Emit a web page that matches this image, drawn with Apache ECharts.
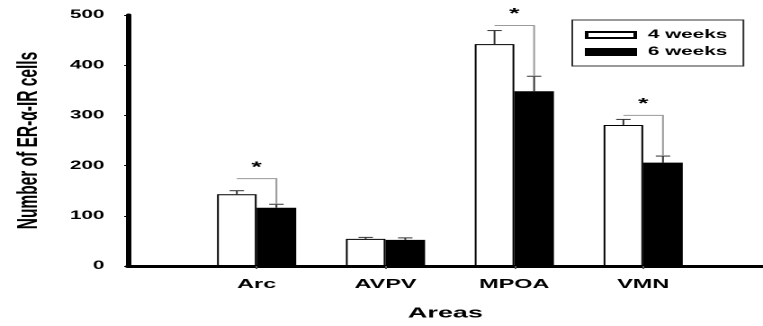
<!DOCTYPE html>
<html>
<head>
<meta charset="utf-8">
<script src="https://cdn.jsdelivr.net/npm/echarts@6/dist/echarts.min.js"></script>
<style>
html,body{margin:0;padding:0;background:#fff;}
#wrap{width:763px;height:326px;overflow:hidden;position:relative;}
#chart{width:424px;height:326px;transform:scaleX(1.79953);transform-origin:0 0;}
</style>
</head>
<body>
<div id="wrap"><div id="chart"></div></div>
<script>
// ---- data ----
const categories = ['Arc', 'AVPV', 'MPOA', 'VMN'];
const seriesNames = ['4 weeks', '6 weeks'];
const weeks4 = [143, 54, 442, 281];
const weeks4Err = [7, 3, 27, 11];
const weeks6 = [116, 52, 348, 206];
const weeks6Err = [7, 4, 30, 13];
const sigLevel = [174, null, 479, 300];   // height of significance bracket
const yTicks = [0, 100, 200, 300, 400, 500];

const FONT = 'Liberation Sans, Arial, sans-serif';
const BAR_W = 22;

const chart = echarts.init(document.getElementById('chart'), null, {renderer: 'canvas', devicePixelRatio: 2});

const pos = categories.map((c, i) => i + 1);

const errData = [];
pos.forEach((x, i) => {
  errData.push([x, weeks4[i], weeks4Err[i], -1]);
  errData.push([x, weeks6[i], weeks6Err[i], 1]);
});
const sigData = [];
pos.forEach((x, i) => {
  if (sigLevel[i] != null) sigData.push([x, sigLevel[i], weeks6[i] + weeks6Err[i]]);
});

const option = {
  animation: false,
  backgroundColor: '#fff',
  grid: {left: 66, right: 0, top: 15, bottom: 58, containLabel: false},
  legend: {
    orient: 'vertical',
    left: 318, top: 20,
    padding: [9, 9, 8, 7],
    borderColor: '#333', borderWidth: 1,
    itemWidth: 27, itemHeight: 6, itemGap: 5,
    icon: 'rect',
    data: seriesNames,
    textStyle: {fontFamily: FONT, fontWeight: 'bold', fontSize: 11.5, color: '#000', padding: [0, 0, 0, 2], lineHeight: 11}
  },
  xAxis: {
    type: 'value', min: 0, max: 4.93,
    name: 'Areas', nameLocation: 'middle', nameGap: 40,
    nameTextStyle: {fontFamily: FONT, fontWeight: 'bold', fontSize: 15, color: '#000'},
    axisLine: {show: true, lineStyle: {color: '#000', width: 3}},
    axisTick: {show: true, customValues: pos, length: 3, lineStyle: {color: '#555', width: 1}},
    axisLabel: {customValues: pos, margin: 12, fontFamily: FONT, fontWeight: 'bold', fontSize: 13, color: '#000',
      formatter: v => categories[Math.round(v) - 1] || ''},
    splitLine: {show: false}
  },
  yAxis: {
    type: 'value', min: 0, max: 500, interval: 100,
    name: 'Number of ER-α-IR cells', nameLocation: 'middle', nameGap: 47, nameRotate: 90,
    nameTextStyle: {fontFamily: FONT, fontWeight: 'bold', fontSize: 15.5, color: '#000'},
    axisLine: {show: true, lineStyle: {color: '#000', width: 3}},
    axisTick: {show: true, length: 2, lineStyle: {color: '#000', width: 1}},
    axisLabel: {margin: 13, fontFamily: FONT, fontWeight: 'bold', fontSize: 11.5, color: '#000',
      formatter: v => yTicks.indexOf(v) >= 0 ? String(v) : ''},
    splitLine: {show: false}
  },
  series: [
    {
      name: seriesNames[0], type: 'bar', barWidth: BAR_W, barGap: '0%',
      data: pos.map((x, i) => [x, weeks4[i]]),
      itemStyle: {color: '#fff', borderColor: '#000', borderWidth: 1}
    },
    {
      name: seriesNames[1], type: 'bar', barWidth: BAR_W, barGap: '0%',
      data: pos.map((x, i) => [x, weeks6[i]]),
      itemStyle: {color: '#000', borderColor: '#000', borderWidth: 1}
    },
    {
      name: 'err', type: 'custom', z: 5,
      data: errData,
      renderItem: function (params, api) {
        const x = api.value(0), y = api.value(1), e = api.value(2), side = api.value(3);
        const base = api.coord([x, y]);
        const top = api.coord([x, y + e]);
        const cx = base[0] + side * BAR_W / 2;
        return {
          type: 'group',
          children: [
            {type: 'line', shape: {x1: cx, y1: base[1], x2: cx, y2: top[1]}, style: {stroke: '#333', lineWidth: 1}},
            {type: 'line', shape: {x1: cx - 4, y1: top[1], x2: cx + 4, y2: top[1]}, style: {stroke: '#333', lineWidth: 1}}
          ]
        };
      }
    },
    {
      name: 'sig', type: 'custom', z: 6,
      data: sigData,
      renderItem: function (params, api) {
        const x = api.value(0), lvl = api.value(1), end = api.value(2);
        const p = api.coord([x, lvl]);
        const pe = api.coord([x, end]);
        const xl = p[0] - BAR_W / 2, xr = p[0] + BAR_W / 2;
        return {
          type: 'group',
          children: [
            {type: 'polyline', shape: {points: [[xl, p[1]], [xr, p[1]], [xr, pe[1]]]},
              style: {stroke: '#9a9a9a', lineWidth: 1, fill: null}},
            {type: 'text', x: p[0], y: p[1] - 4,
              style: {text: '*', fontFamily: FONT, fontWeight: 'bold', fontSize: 15, fill: '#000', align: 'center', verticalAlign: 'bottom'}}
          ]
        };
      }
    }
  ]
};
chart.setOption(option);
</script>
</body>
</html>
